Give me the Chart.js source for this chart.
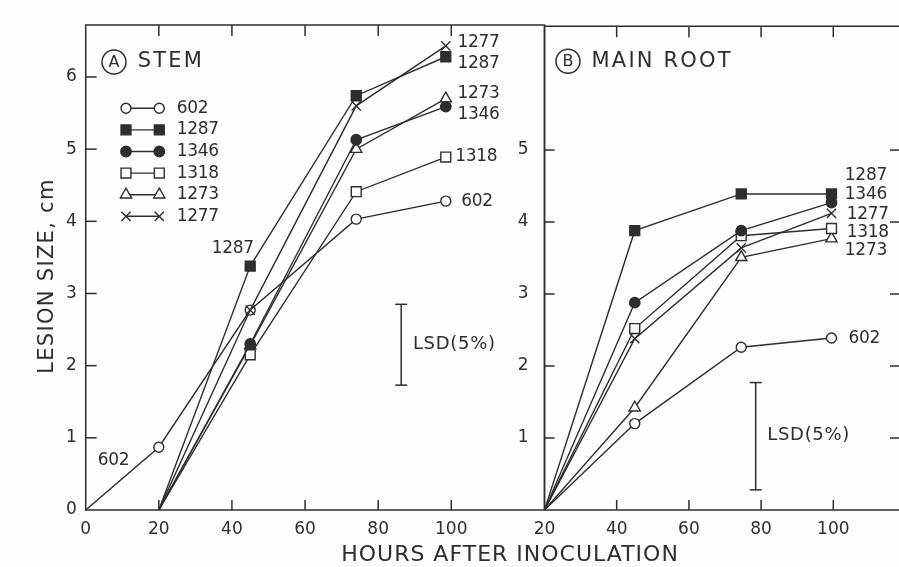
<!DOCTYPE html>
<html>
<head>
<meta charset="utf-8">
<script src="https://cdn.jsdelivr.net/npm/chart.js@4.4.1/dist/chart.umd.min.js"></script>
<style>
  html, body { margin: 0; padding: 0; background: #fdfdfd; }
  #wrap { position: relative; width: 899px; height: 567px; }
  canvas { position: absolute; left: 0; top: 0; }
</style>
</head>
<body>
<div id="wrap">
  <canvas id="stemChart" width="899" height="567"></canvas>
  <canvas id="rootChart" width="899" height="567"></canvas>
</div>
<script>
// Sampling times (hours after inoculation)
const stemHours602 = [0, 20, 45, 74, 98.5];
const stemHours = [20, 45, 74, 98.5];
const rootHours = [20, 45, 74.5, 99.5];

// Lesion size, cm - (A) stem
const stem602 = [0, 0.87, 2.77, 4.03, 4.28];
const stem1287 = [0, 3.38, 5.74, 6.28];
const stem1346 = [0, 2.30, 5.13, 5.59];
const stem1318 = [0, 2.15, 4.41, 4.89];
const stem1273 = [0, 2.28, 5.00, 5.70];
const stem1277 = [0, 2.77, 5.60, 6.43];

// Lesion size, cm - (B) main root
const root602 = [0, 1.20, 2.26, 2.39];
const root1287 = [0, 3.88, 4.39, 4.39];
const root1346 = [0, 2.88, 3.88, 4.27];
const root1318 = [0, 2.52, 3.81, 3.91];
const root1273 = [0, 1.42, 3.51, 3.77];
const root1277 = [0, 2.38, 3.64, 4.12];

// Tick labels
const stemXTicks = [0, 20, 40, 60, 80, 100];
const rootXTicks = [20, 40, 60, 80, 100];
const stemYTicks = [0, 1, 2, 3, 4, 5, 6];
const rootYTicks = [1, 2, 3, 4, 5];

// LSD(5%) bars: [hours, low, high]
const stemLsd = [86.3, 1.73, 2.85];
const rootLsd = [78.5, 0.28, 1.77];

// Legend order
const isolates = ['602', '1287', '1346', '1318', '1273', '1277'];

// Curve labels: [text, hours, cm, align]
const stemLabels = [
  ['1277', 101.7, 6.47], ['1287', 101.7, 6.19], ['1273', 101.7, 5.77],
  ['1346', 101.7, 5.48], ['1318', 101.1, 4.89], ['602', 102.7, 4.28],
  ['1287', 40.2, 3.62, 'center'], ['602', 7.6, 0.69, 'center']
];
const rootLabels = [
  ['1287', 103.2, 4.64], ['1346', 103.2, 4.38], ['1277', 103.7, 4.11],
  ['1318', 103.7, 3.86], ['1273', 103.2, 3.60], ['602', 104.2, 2.38]
];

const INK = '#2e2e2e';
const PAPER = '#fdfdfd';
const FONT = '"DejaVu Sans", sans-serif';

const markers = {
  '602':  { pointStyle: 'circle', radius: 5, fill: PAPER },
  '1287': { pointStyle: 'rect', radius: 7, fill: INK },
  '1346': { pointStyle: 'circle', radius: 5.2, fill: INK },
  '1318': { pointStyle: 'rect', radius: 7, fill: PAPER },
  '1273': { pointStyle: 'triangle', radius: 6.5, fill: PAPER },
  '1277': { pointStyle: 'crossRot', radius: 6.5, fill: PAPER }
};

function makeDatasets(series) {
  return series.map(([name, hours, values]) => {
    const m = markers[name];
    return {
      label: name,
      data: hours.map((h, i) => ({ x: h, y: values[i] })),
      borderColor: INK,
      borderWidth: 1.4,
      pointStyle: m.pointStyle,
      pointRadius: c => (c.dataIndex === 0 ? 0 : m.radius),
      pointBackgroundColor: m.fill,
      pointBorderColor: INK,
      pointBorderWidth: 1.4,
      tension: 0,
      fill: false
    };
  });
}

function makeOptions(xMax, xMin, xTicks, yTicks, yWidth, yPad, padding) {
  const tickFont = { family: FONT, size: 17 };
  return {
    responsive: false,
    animation: false,
    events: [],
    layout: { padding, autoPadding: false },
    plugins: { legend: { display: false }, tooltip: { enabled: false } },
    scales: {
      x: {
        type: 'linear', min: xMin, max: xMax,
        afterBuildTicks: s => { s.ticks = xTicks.map(v => ({ value: v })); },
        afterFit: s => { s.height = 57; },
        grid: { display: false, drawTicks: false }, border: { display: false },
        ticks: { color: INK, font: tickFont, padding: 9, maxRotation: 0, autoSkip: false }
      },
      y: {
        type: 'linear', min: 0, max: 6.72,
        afterBuildTicks: s => { s.ticks = yTicks.map(v => ({ value: v })); },
        afterFit: s => { s.width = yWidth; },
        grid: { display: false, drawTicks: false }, border: { display: false },
        ticks: { color: INK, font: tickFont, padding: yPad, autoSkip: false }
      }
    }
  };
}

function text(ctx, str, px, py, size, align, spacing) {
  ctx.font = size + 'px ' + FONT;
  ctx.letterSpacing = (spacing || 0) + 'px';
  ctx.textAlign = align || 'left';
  ctx.textBaseline = 'middle';
  ctx.fillText(str, px, py);
}

function line(ctx, x1, y1, x2, y2) {
  ctx.beginPath();
  ctx.moveTo(x1, y1);
  ctx.lineTo(x2, y2);
  ctx.stroke();
}

function drawLsd(ctx, x, y, lsd) {
  const px = x.getPixelForValue(lsd[0]);
  const lo = y.getPixelForValue(lsd[1]);
  const hi = y.getPixelForValue(lsd[2]);
  line(ctx, px, lo, px, hi);
  line(ctx, px - 6, lo, px + 6, lo);
  line(ctx, px - 6, hi, px + 6, hi);
}

function drawLabels(ctx, x, y, labels) {
  labels.forEach(([str, h, v, align]) => {
    text(ctx, str, x.getPixelForValue(h), y.getPixelForValue(v), 17, align || 'left', -0.3);
  });
}

function panelTitle(ctx, cx, cy, letter, title, tx) {
  ctx.lineWidth = 1.5;
  ctx.beginPath();
  ctx.arc(cx, cy, 12, 0, Math.PI * 2);
  ctx.stroke();
  text(ctx, letter, cx, cy + 1, 16, 'center', 0);
  text(ctx, title, tx, cy, 21, 'left', 2.2);
}

const stemDecor = {
  id: 'stemDecor',
  afterDraw(chart) {
    const { ctx, chartArea: a, scales: { x, y } } = chart;
    ctx.save();
    ctx.strokeStyle = INK;
    ctx.fillStyle = INK;
    ctx.lineWidth = 1.5;
    ctx.strokeRect(a.left, a.top, a.right - a.left, a.bottom - a.top);

    stemYTicks.filter(v => v > 0).forEach(v => {
      const py = y.getPixelForValue(v);
      line(ctx, a.left, py, a.left + 11, py);
    });
    stemXTicks.filter(v => v > 0).forEach(v => {
      const px = x.getPixelForValue(v);
      line(ctx, px, a.top, px, a.top + 11);
      line(ctx, px, a.bottom, px, a.bottom - 10);
    });

    drawLsd(ctx, x, y, stemLsd);
    text(ctx, 'LSD(5%)', x.getPixelForValue(89.5), y.getPixelForValue(2.30), 18, 'left', 0.7);
    drawLabels(ctx, x, y, stemLabels);
    panelTitle(ctx, a.left + 28.3, a.top + 37, 'A', 'STEM', a.left + 52);

    // legend
    isolates.forEach((name, i) => {
      const m = markers[name];
      const ly = 108.3 + i * 21.6;
      const x1 = a.left + 40.3, x2 = a.left + 73.6;
      ctx.lineWidth = 1.4;
      line(ctx, x1, ly, x2, ly);
      [x1, x2].forEach(px => {
        ctx.fillStyle = m.fill;
        Chart.helpers.drawPoint(ctx, { pointStyle: m.pointStyle, radius: m.radius, borderWidth: 1.4, rotation: 0 }, px, ly);
      });
      ctx.fillStyle = INK;
      text(ctx, name, a.left + 91, ly, 17, 'left', -0.3);
    });

    // axis titles
    text(ctx, 'HOURS AFTER INOCULATION', 510, 555, 22, 'center', 1);
    ctx.save();
    ctx.translate(48, 276);
    ctx.rotate(-Math.PI / 2);
    text(ctx, 'LESION SIZE, cm', 0, 0, 21, 'center', 1.3);
    ctx.restore();
    ctx.restore();
  }
};

const rootDecor = {
  id: 'rootDecor',
  afterDraw(chart) {
    const { ctx, chartArea: a, scales: { x, y } } = chart;
    ctx.save();
    ctx.strokeStyle = INK;
    ctx.fillStyle = INK;
    ctx.lineWidth = 1.5;
    line(ctx, a.left, a.top, a.right, a.top);
    line(ctx, a.left, a.bottom, a.right, a.bottom);
    line(ctx, a.left, a.top, a.left, a.bottom);

    rootYTicks.forEach(v => {
      const py = y.getPixelForValue(v);
      line(ctx, a.left, py, a.left + 10, py);
      line(ctx, a.right - 9, py, a.right, py);
    });
    rootXTicks.filter(v => v > 20).forEach(v => {
      const px = x.getPixelForValue(v);
      line(ctx, px, a.top, px, a.top + 11);
      line(ctx, px, a.bottom, px, a.bottom - 10);
    });

    drawLsd(ctx, x, y, rootLsd);
    text(ctx, 'LSD(5%)', x.getPixelForValue(81.7), y.getPixelForValue(1.04), 18, 'left', 0.7);
    drawLabels(ctx, x, y, rootLabels);
    panelTitle(ctx, a.left + 23.5, a.top + 35, 'B', 'MAIN ROOT', a.left + 47);
    ctx.restore();
  }
};

new Chart(document.getElementById('stemChart'), {
  type: 'line',
  data: {
    datasets: makeDatasets([
      ['1277', stemHours, stem1277],
      ['602', stemHours602, stem602],
      ['1287', stemHours, stem1287],
      ['1346', stemHours, stem1346],
      ['1318', stemHours, stem1318],
      ['1273', stemHours, stem1273]
    ])
  },
  options: makeOptions(125.5, 0, stemXTicks, stemYTicks, 85.7, 9,
    { left: 0, right: 354.5, top: 25, bottom: 0 }),
  plugins: [stemDecor]
});

new Chart(document.getElementById('rootChart'), {
  type: 'line',
  data: {
    datasets: makeDatasets([
      ['1287', rootHours, root1287],
      ['1346', rootHours, root1346],
      ['1277', rootHours, root1277],
      ['1318', rootHours, root1318],
      ['1273', rootHours, root1273],
      ['602', rootHours, root602]
    ])
  },
  options: makeOptions(118.2, 20, rootXTicks, rootYTicks, 44.5, 16,
    { left: 500, right: 0, top: 25, bottom: 0 }),
  plugins: [rootDecor]
});
</script>
</body>
</html>
